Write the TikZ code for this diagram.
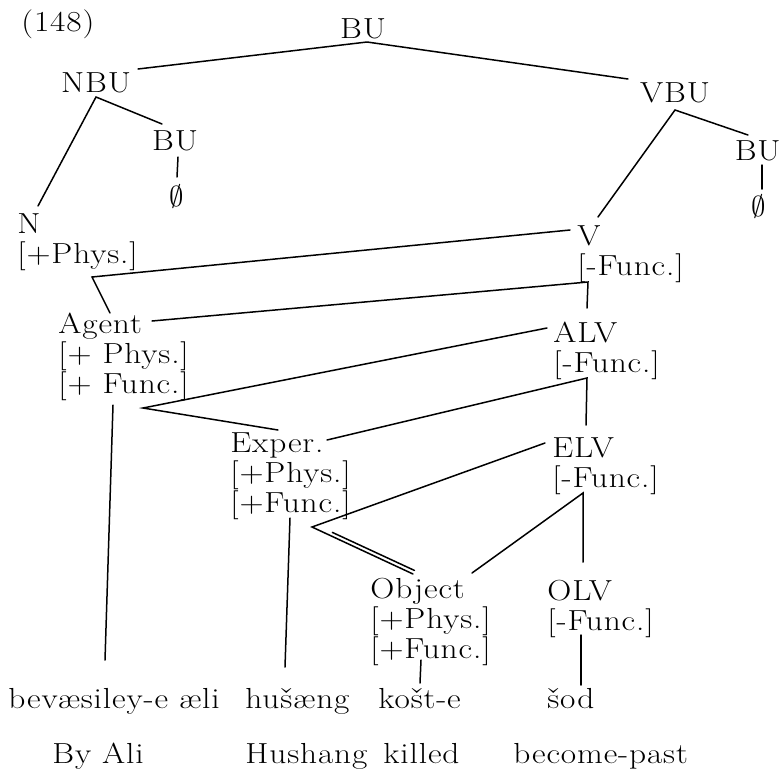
\documentclass[tikz,border=0pt]{standalone}
\usepackage{fontspec}
\setmainfont{Latin Modern Roman}[FakeStretch=1.15,LetterSpace=3]
\newcommand{\mystack}[1]{\begin{tabular}[t]{@{}l@{}}#1\end{tabular}}
\begin{document}
\begin{tikzpicture}[x=0.5pt,y=-0.5pt,
  lab/.style={inner sep=0pt, anchor=base west, font=\fontsize{14.5}{14}\selectfont},
  labc/.style={lab, anchor=base},
  edge/.style={line width=0.75pt, line cap=round}]
\useasboundingbox (0,0) rectangle (782,778);

% labels
\node[lab] (num) at (21,31) {(148)};
\node[labc] (bu) at (363,38) {BU};
\node[labc] (nbu) at (96,92) {NBU};
\node[labc] (bua) at (175,150) {BU};
\node[labc] (ea) at (177,206) {$\emptyset$};
\node[lab] (n) at (17,233) {\mystack{N\\ {[}+Phys.]}};
\node[labc] (vbu) at (675,102) {VBU};
\node[lab, anchor=base east] (bub) at (781,160) {BU};
\node[labc] (eb) at (759,216) {$\emptyset$};
\node[lab] (v) at (577,245) {\mystack{V\\ {[}-Func.]}};
\node[lab] (agent) at (58,333) {\mystack{Agent\\ {[}+ Phys.]\\ {[}+ Func.]}};
\node[lab] (alv) at (553,342) {\mystack{ALV\\ {[}-Func.]}};
\node[lab] (exper) at (230,452) {\mystack{Exper.\\ {[}+Phys.]\\ {[}+Func.]}};
\node[lab] (elv) at (552,457) {\mystack{ELV\\ {[}-Func.]}};
\node[lab] (object) at (370,598) {\mystack{Object\\ {[}+Phys.]\\ {[}+Func.]}};
\node[lab] (olv) at (547,600) {\mystack{OLV\\ {[}-Func.]}};

\node[lab] (w1) at (8,708) {bevæsiley-e æli};
\node[lab] (w2) at (245,708) {hušæng};
\node[lab] (w3) at (378,708) {košt-e};
\node[lab] (w4) at (547,708) {šod};
\node[lab] (g1) at (52,763) {By Ali};
\node[lab] (g2) at (245,763) {Hushang};
\node[lab] (g3) at (383,763) {killed};
\node[lab] (g4) at (513,763) {become-past};

% junction / end coordinates
\coordinate (buT) at (367,42);
\coordinate (nbuR) at (138,69);
\coordinate (vbuL) at (628,79);
\coordinate (nbuT) at (96,97);
\coordinate (nT) at (38,206);
\coordinate (buaT) at (162,124);
\coordinate (buaB) at (178,157);
\coordinate (eaT) at (177,177);
\coordinate (vbuT) at (675,110);
\coordinate (vT) at (598,217);
\coordinate (bubT) at (748,135);
\coordinate (bubB) at (762,165);
\coordinate (ebT) at (762,189);
\coordinate (nJ) at (92,277);
\coordinate (vL) at (570,230);
\coordinate (agentT) at (110,313);
\coordinate (vJ) at (588,282);
\coordinate (agentR) at (152,321);
\coordinate (alvT) at (587,308);
\coordinate (agentB) at (113,405);
\coordinate (w1T) at (105,660);
\coordinate (alvL) at (547,328);
\coordinate (aJ) at (143,408);
\coordinate (experT) at (278,430);
\coordinate (alvJ) at (587,378);
\coordinate (experR) at (327,440);
\coordinate (elvT) at (586,425);
\coordinate (experB) at (290,518);
\coordinate (w2T) at (285,667);
\coordinate (elvL) at (545,443);
\coordinate (eJ) at (312,527);
\coordinate (objT) at (413,574);
\coordinate (objTa) at (332.4,532.4);
\coordinate (objTb) at (414.4,570.4);
\coordinate (elvJ) at (583,493);
\coordinate (objR) at (472,573);
\coordinate (olvT) at (583,562);
\coordinate (objB) at (421,660);
\coordinate (w3T) at (420,683);
\coordinate (olvB) at (581,635);
\coordinate (w4T) at (581,685);

% connectors
\draw[edge] (nbuR) -- (buT) -- (vbuL);
\draw[edge] (nT) -- (nbuT) -- (buaT);
\draw[edge] (buaB) -- (eaT);
\draw[edge] (vT) -- (vbuT) -- (bubT);
\draw[edge] (bubB) -- (ebT);
\draw[edge] (vL) -- (nJ) -- (agentT);
\draw[edge] (agentR) -- (vJ) -- (alvT);
\draw[edge] (agentB) -- (w1T);
\draw[edge] (alvL) -- (aJ) -- (experT);
\draw[edge] (experR) -- (alvJ) -- (elvT);
\draw[edge] (experB) -- (w2T);
\draw[edge] (elvL) -- (eJ) -- (objT);
\draw[edge] (objTa) -- (objTb);
\draw[edge] (objR) -- (elvJ) -- (olvT);
\draw[edge] (objB) -- (w3T);
\draw[edge] (olvB) -- (w4T);
\end{tikzpicture}
\end{document}
